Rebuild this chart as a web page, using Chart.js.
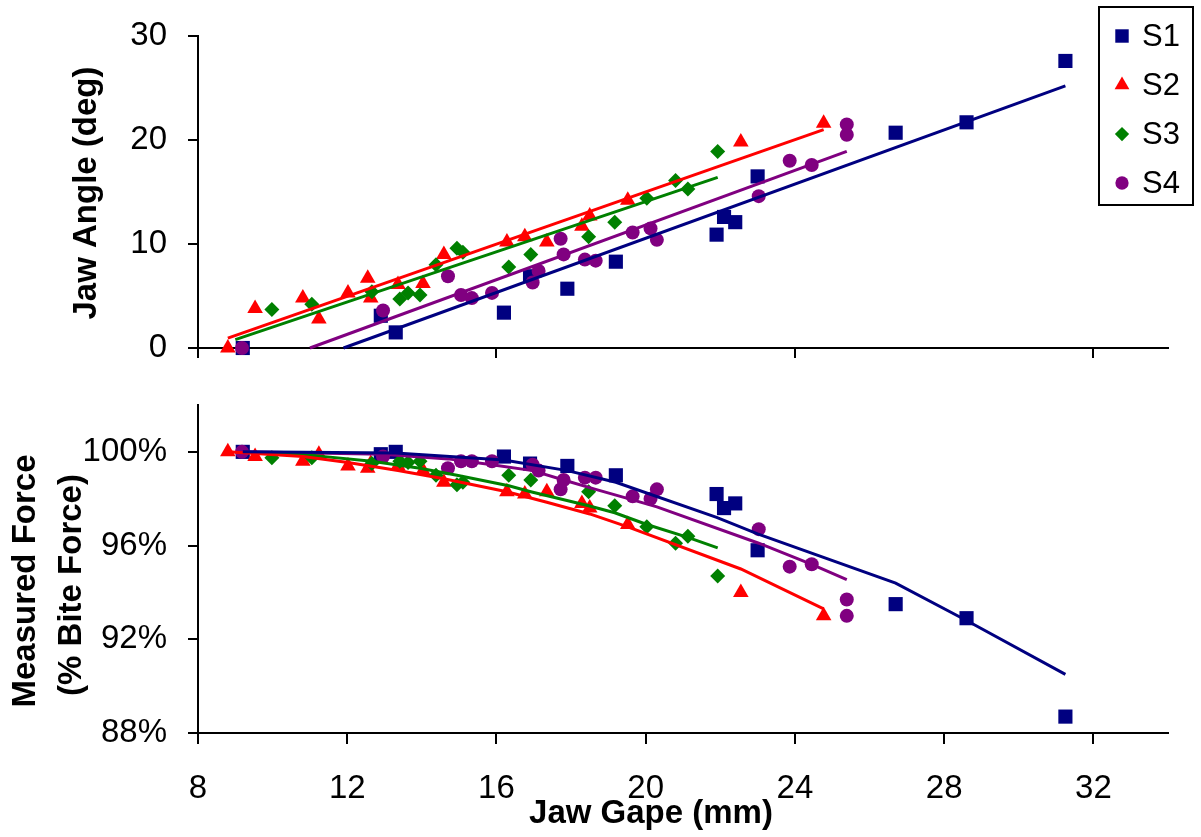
<!DOCTYPE html>
<html>
<head>
<meta charset="utf-8">
<title>Jaw angle and measured force vs jaw gape</title>
<script src="https://cdn.jsdelivr.net/npm/chart.js@4.4.1/dist/chart.umd.min.js"></script>
<style>
  html, body { margin: 0; padding: 0; background: #ffffff; }
  #wrap { position: relative; width: 1201px; height: 837px; overflow: hidden; background: #ffffff; }
  canvas { position: absolute; left: 0; }
  #angleChart { top: 0; }
  #forceChart { top: 380px; }
</style>
</head>
<body>
<div id="wrap">
  <canvas id="angleChart" width="1201" height="380"></canvas>
  <canvas id="forceChart" width="1201" height="457"></canvas>
</div>
<script>
// ---- Trial data per subject: jaw gape (mm), jaw angle (deg), measured force (% of bite force) ----
const gapeS1  = [9.2, 12.9, 13.3, 16.2, 16.9, 17.9, 19.2, 21.9, 22.1, 22.4, 23.0, 26.7, 28.6, 31.25];
const angleS1 = [0, 3.1, 1.5, 3.4, 6.9, 5.7, 8.3, 10.9, 12.6, 12.1, 16.5, 20.7, 21.7, 27.6];
const forceS1 = [100, 99.9, 100, 99.8, 99.5, 99.4, 99.0, 98.2, 97.6, 97.8, 95.8, 93.5, 92.9, 88.7];

const gapeS2  = [8.8, 9.53, 10.81, 11.24, 12.02, 12.55, 12.63, 13.36, 14.03, 14.59, 16.28, 16.76, 17.35, 18.29, 18.5, 19.52, 22.55, 24.77];
const angleS2 = [0, 3.8, 4.8, 2.8, 5.3, 6.7, 4.8, 6.1, 6.2, 9.0, 10.2, 10.7, 10.2, 11.7, 12.7, 14.2, 19.8, 21.6];
const forceS2 = [100, 99.8, 99.6, 99.9, 99.4, 99.3, 99.5, 99.4, 99.2, 98.7, 98.3, 98.2, 98.3, 97.8, 97.6, 96.9, 94.0, 93.0];

const gapeS3  = [9.98, 11.05, 12.66, 13.41, 13.63, 13.95, 14.38, 14.94, 15.1, 16.33, 16.92, 18.47, 19.17, 20.03, 20.8, 21.13, 21.93];
const angleS3 = [3.7, 4.2, 5.4, 4.7, 5.3, 5.1, 8.0, 9.6, 9.2, 7.8, 9.0, 10.7, 12.1, 14.4, 16.1, 15.3, 18.9];
const forceS3 = [99.75, 99.75, 99.5, 99.6, 99.55, 99.6, 99.0, 98.6, 98.7, 99.0, 98.8, 98.3, 97.7, 96.8, 96.1, 96.4, 94.7];

const gapeS4  = [9.18, 12.96, 14.7, 15.05, 15.34, 15.88, 16.97, 17.13, 17.72, 17.8, 18.37, 18.66, 19.65, 20.13, 20.3, 23.03, 23.86, 24.45, 25.39, 25.39];
const angleS4 = [0, 3.6, 6.9, 5.1, 4.8, 5.3, 6.3, 7.4, 10.5, 9.0, 8.5, 8.4, 11.1, 11.5, 10.4, 14.6, 18.0, 17.6, 21.5, 20.5];
const forceS4 = [100, 99.8, 99.3, 99.6, 99.6, 99.6, 99.45, 99.2, 98.4, 98.8, 98.9, 98.9, 98.1, 98.0, 98.4, 96.7, 95.1, 95.2, 93.7, 93.0];

// ---- Linear trend of jaw angle (segment end points) ----
const angleFitGapeS1 = [11.9, 31.25];  const angleFitS1 = [0, 25.2];
const angleFitGapeS2 = [8.8, 24.77];   const angleFitS2 = [0.95, 21.0];
const angleFitGapeS3 = [9.0, 21.93];   const angleFitS3 = [0.8, 16.4];
const angleFitGapeS4 = [11.0, 25.39];  const angleFitS4 = [0, 18.9];

// ---- Polynomial trend of measured force, sampled at trial gapes ----
const forceFitGapeS1 = [9.2, 13.3, 16.2, 17.9, 19.2, 21.9, 23.0, 26.7, 28.6, 31.25];
const forceFitS1     = [100.0, 99.95, 99.65, 99.2, 98.7, 97.2, 96.5, 94.4, 92.8, 90.5];
const forceFitGapeS2 = [8.8, 10.81, 12.02, 13.36, 14.59, 16.28, 17.35, 18.5, 19.52, 22.55, 24.77];
const forceFitS2     = [100.0, 99.8, 99.55, 99.2, 98.85, 98.3, 97.85, 97.35, 96.8, 95.0, 93.3];
const forceFitGapeS3 = [9.98, 11.05, 12.66, 13.95, 14.94, 16.33, 16.92, 18.47, 19.17, 20.03, 21.13, 21.93];
const forceFitS3     = [99.95, 99.85, 99.6, 99.3, 99.0, 98.55, 98.3, 97.7, 97.4, 96.9, 96.35, 95.9];
const forceFitGapeS4 = [9.18, 12.96, 14.7, 15.88, 16.97, 17.8, 18.66, 19.65, 20.3, 23.03, 24.45, 25.39];
const forceFitS4     = [100.0, 99.9, 99.7, 99.45, 99.2, 98.8, 98.4, 97.95, 97.65, 96.1, 95.2, 94.55];

// ---- Labels and ticks ----
const subjects = ['S1', 'S2', 'S3', 'S4'];
const xTicksTop = [8, 16, 24, 32];
const xTicksBottom = [8, 12, 16, 20, 24, 28, 32];
const yTicksAngle = [0, 10, 20, 30];
const yTicksForce = [88, 92, 96, 100];

// ---- Appearance ----
const FONT = "'Liberation Sans', Arial, Helvetica, sans-serif";
const markerStyles = [
  { color: '#000080', pointStyle: 'rect',     radius: 10 },
  { color: '#ff0000', pointStyle: 'triangle', radius: 9 },
  { color: '#008000', pointStyle: 'rectRot',  radius: 7.5 },
  { color: '#800080', pointStyle: 'circle',   radius: 7 }
];

Chart.defaults.font.family = FONT;
Chart.defaults.color = '#000000';

function pairs(xs, ys) { return xs.map((x, i) => ({ x: x, y: ys[i] })); }

function buildDatasets(markerX, markerY, fitX, fitY) {
  const sets = [];
  subjects.forEach((name, i) => {
    const st = markerStyles[i];
    sets.push({
      label: name,
      data: pairs(markerX[i], markerY[i]),
      showLine: false,
      pointStyle: st.pointStyle,
      pointRadius: st.radius,
      pointHoverRadius: st.radius,
      pointBackgroundColor: st.color,
      pointBorderColor: st.color,
      pointBorderWidth: 0,
      backgroundColor: st.color,
      borderColor: st.color,
      order: 8 - i,
      clip: false
    });
  });
  subjects.forEach((name, i) => {
    const st = markerStyles[i];
    sets.push({
      label: name + ' fit',
      data: pairs(fitX[i], fitY[i]),
      showLine: true,
      pointRadius: 0,
      pointHoverRadius: 0,
      borderColor: st.color,
      backgroundColor: st.color,
      borderWidth: 3,
      tension: 0,
      fill: false,
      order: 1 + i,
      clip: false
    });
  });
  return sets;
}

function axisLines(tickLen) {
  return {
    grid: { display: true, drawOnChartArea: false, drawTicks: true, tickLength: tickLen, color: '#000000', lineWidth: 2 },
    border: { display: true, color: '#000000', width: 2 }
  };
}

// Fixed axis sizes; label overflow is not allowed to move the plot area
function fixSize(prop, size) {
  return function (scale) {
    scale[prop] = size;
    scale.paddingTop = 0;
    scale.paddingBottom = 0;
    scale.paddingLeft = 0;
    scale.paddingRight = 0;
  };
}

// Rotated / horizontal axis captions drawn on the canvas
function captionPlugin(id, captions) {
  return {
    id: id,
    afterDraw(chart) {
      const ctx = chart.ctx;
      captions.forEach(c => {
        ctx.save();
        ctx.font = c.font;
        ctx.fillStyle = '#000000';
        ctx.textAlign = 'center';
        ctx.textBaseline = 'alphabetic';
        ctx.translate(c.x, c.y);
        if (c.rotate) ctx.rotate(-Math.PI / 2);
        ctx.fillText(c.text, 0, 0);
        ctx.restore();
      });
    }
  };
}

// Boxed legend listing the subjects with their marker shapes
const legendBoxPlugin = {
  id: 'legendBox',
  afterDraw(chart) {
    const ctx = chart.ctx;
    const box = { x: 1099, y: 7, w: 94, h: 198 };
    ctx.save();
    ctx.fillStyle = '#ffffff';
    ctx.fillRect(box.x, box.y, box.w, box.h);
    ctx.strokeStyle = '#000000';
    ctx.lineWidth = 2;
    ctx.strokeRect(box.x, box.y, box.w, box.h);
    subjects.forEach((name, i) => {
      const st = markerStyles[i];
      const cy = 36 + 49 * i;
      ctx.fillStyle = st.color;
      ctx.strokeStyle = st.color;
      Chart.helpers.drawPoint(ctx, { pointStyle: st.pointStyle, radius: st.radius * 0.95, rotation: 0, borderWidth: 0 }, 1122, cy);
      ctx.fillStyle = '#000000';
      ctx.font = '31px ' + FONT;
      ctx.textAlign = 'left';
      ctx.textBaseline = 'middle';
      ctx.fillText(name, 1142, cy + 1);
    });
    ctx.restore();
  }
};

const commonOptions = {
  responsive: false,
  animation: false,
  events: [],
  plugins: { legend: { display: false }, tooltip: { enabled: false }, title: { display: false } }
};

// ---- Upper panel: jaw angle ----
new Chart(document.getElementById('angleChart'), {
  type: 'scatter',
  data: {
    datasets: buildDatasets(
      [gapeS1, gapeS2, gapeS3, gapeS4],
      [angleS1, angleS2, angleS3, angleS4],
      [angleFitGapeS1, angleFitGapeS2, angleFitGapeS3, angleFitGapeS4],
      [angleFitS1, angleFitS2, angleFitS3, angleFitS4]
    )
  },
  options: Object.assign({}, commonOptions, {
    layout: { padding: { top: 36, right: 33, left: 0, bottom: 0 } },
    scales: {
      x: Object.assign(axisLines(10), {
        type: 'linear', min: 8, max: 34,
        ticks: { display: false, autoSkip: false },
        afterBuildTicks(scale) { scale.ticks = xTicksTop.map(v => ({ value: v })); },
        afterFit: fixSize('height', 32)
      }),
      y: Object.assign(axisLines(10), {
        type: 'linear', min: 0, max: 30,
        ticks: { autoSkip: false, padding: 21, font: { size: 33 }, color: '#000000' },
        afterBuildTicks(scale) { scale.ticks = yTicksAngle.map(v => ({ value: v })); },
        afterFit: fixSize('width', 198)
      })
    }
  }),
  plugins: [
    captionPlugin('angleCaption', [
      { text: 'Jaw Angle (deg)', x: 96, y: 193, rotate: true, font: 'bold 33px ' + FONT }
    ]),
    legendBoxPlugin
  ]
});

// ---- Lower panel: measured force ----
new Chart(document.getElementById('forceChart'), {
  type: 'scatter',
  data: {
    datasets: buildDatasets(
      [gapeS1, gapeS2, gapeS3, gapeS4],
      [forceS1, forceS2, forceS3, forceS4],
      [forceFitGapeS1, forceFitGapeS2, forceFitGapeS3, forceFitGapeS4],
      [forceFitS1, forceFitS2, forceFitS3, forceFitS4]
    )
  },
  options: Object.assign({}, commonOptions, {
    layout: { padding: { top: 25, right: 33, left: 0, bottom: 0 } },
    scales: {
      x: Object.assign(axisLines(11), {
        type: 'linear', min: 8, max: 34,
        ticks: { autoSkip: false, padding: 25, font: { size: 33 }, color: '#000000', maxRotation: 0 },
        afterBuildTicks(scale) { scale.ticks = xTicksBottom.map(v => ({ value: v })); },
        afterFit: fixSize('height', 104)
      }),
      y: Object.assign(axisLines(10), {
        type: 'linear', min: 88, max: 102,
        ticks: { autoSkip: false, padding: 21, font: { size: 33 }, color: '#000000', callback: v => v + '%' },
        afterBuildTicks(scale) { scale.ticks = yTicksForce.map(v => ({ value: v })); },
        afterFit: fixSize('width', 198)
      })
    }
  }),
  plugins: [
    captionPlugin('forceCaption', [
      { text: 'Measured Force', x: 35, y: 201, rotate: true, font: 'bold 33px ' + FONT },
      { text: '(% Bite Force)', x: 81, y: 205, rotate: true, font: 'bold 33px ' + FONT },
      { text: 'Jaw Gape (mm)', x: 651, y: 443, rotate: false, font: 'bold 33px ' + FONT }
    ])
  ]
});
</script>
</body>
</html>
